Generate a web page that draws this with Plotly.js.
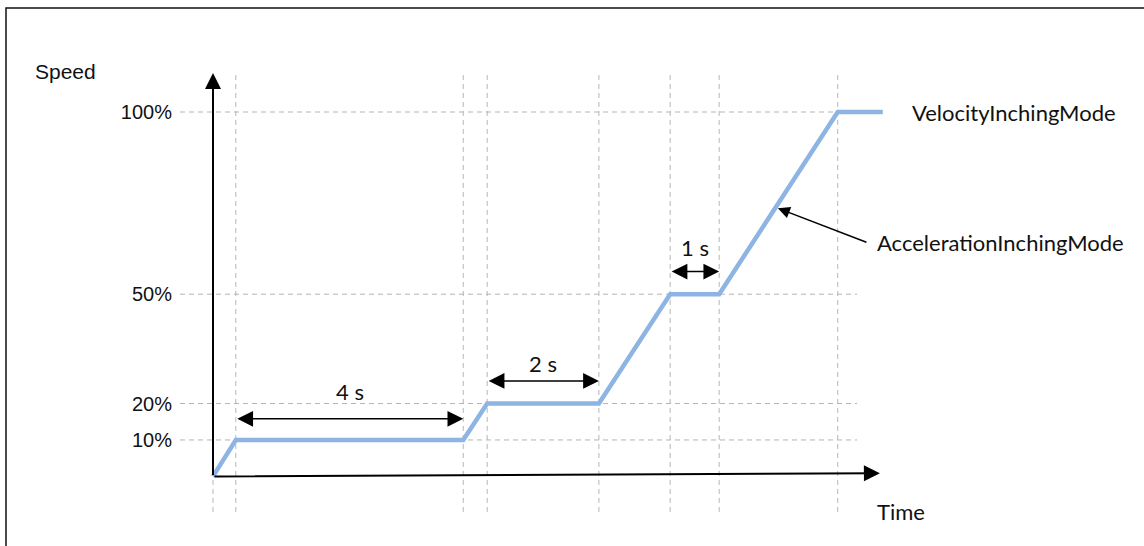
<!DOCTYPE html>
<html>
<head>
<meta charset="utf-8">
<script src="https://cdn.plot.ly/plotly-3.0.1.min.js"></script>
<style>html,body{margin:0;padding:0;background:#fff;}#chart{width:1144px;height:546px;}</style>
</head>
<body>
<div id="chart"></div>
<script>
// ---- data ----
const times = [0, 0.40, 4.39, 4.81, 6.77, 8.02, 8.88, 10.96, 11.75];   // time (arbitrary s scale)
const speed = [0, 10, 10, 20, 20, 50, 50, 100, 100];                     // speed in %
const gridTimes = [0, 0.40, 4.39, 4.81, 6.77, 8.02, 8.88, 10.96];
const speedTicks = [10, 20, 50, 100];
const speedTickLabels = ['10%', '20%', '50%', '100%'];
const spanLabels = ['4 s', '2 s', '1 s'];
const spanStart = [0.40, 4.81, 8.02];
const spanEnd = [4.39, 6.77, 8.88];
const spanArrowY = [15.8, 26.2, 56.2];
const spanTextY = [23.2, 30.9, 62.9];

// ---- styles ----
const TEXTFONT = {family: 'Lato, "Open Sans", sans-serif', size: 22, color: '#111'};
const AXFONT = {family: '"Liberation Sans", Arial, sans-serif', size: 20, color: '#111'};
const GRID = {color: '#b5b5b5', width: 1, dash: '5px,4px'};

const xRange = [-0.579, 16.333];
const yRange = [-19.10, 130.74];
const gridTop = 110.15, gridBottom = -9.75, gridRight = 11.30;

const shapes = [];
gridTimes.forEach(t => shapes.push({type: 'line', xref: 'x', yref: 'y', x0: t, x1: t, y0: gridBottom, y1: gridTop, line: GRID, layer: 'below'}));
speedTicks.forEach(s => shapes.push({type: 'line', xref: 'paper', yref: 'y', x0: 0, x1: (gridRight - xRange[0]) / (xRange[1] - xRange[0]), y0: s, y1: s, line: GRID, layer: 'below'}));
// outer frame
shapes.push({type: 'rect', xref: 'paper', yref: 'paper', x0: -0.1805, x1: 1.05, y0: -0.05, y1: 0.9853, line: {color: '#111', width: 1.5}, fillcolor: 'rgba(0,0,0,0)'});

const annotations = [];
// y axis arrow
annotations.push({x: 0, y: 110.7, ax: 0, ay: 0, xref: 'x', yref: 'y', axref: 'x', ayref: 'y', text: '', showarrow: true, arrowhead: 2, arrowsize: 1.6, arrowwidth: 2, arrowcolor: '#000', standoff: 0, startstandoff: 0});
// x axis arrow (slightly tilted as in reference)
annotations.push({x: 11.70, y: 0.85, ax: 0, ay: 0, xref: 'x', yref: 'y', axref: 'x', ayref: 'y', text: '', showarrow: true, arrowhead: 2, arrowsize: 1.6, arrowwidth: 2, arrowcolor: '#000', standoff: 0, startstandoff: 0});
// duration spans
spanLabels.forEach((lab, i) => {
  annotations.push({x: spanEnd[i], y: spanArrowY[i], ax: spanStart[i], ay: spanArrowY[i], xref: 'x', yref: 'y', axref: 'x', ayref: 'y', text: '', showarrow: true, arrowhead: 2, startarrowhead: 2, arrowside: 'end+start', arrowsize: 2.1, startarrowsize: 2.1, arrowwidth: 1.5, arrowcolor: '#000', standoff: 0, startstandoff: 0});
  annotations.push({x: (spanStart[i] + spanEnd[i]) / 2, y: spanTextY[i], xref: 'x', yref: 'y', text: lab, showarrow: false, font: TEXTFONT, xanchor: 'center', yanchor: 'middle'});
});
// labels
annotations.push({x: 12.23, y: 100, xref: 'x', yref: 'y', text: 'VelocityInchingMode', showarrow: false, font: TEXTFONT, xanchor: 'left', yanchor: 'middle'});
annotations.push({x: 11.62, y: 64.1, xref: 'x', yref: 'y', text: 'AccelerationInchingMode', showarrow: false, font: TEXTFONT, xanchor: 'left', yanchor: 'middle'});
annotations.push({x: 9.91, y: 73.6, ax: 11.49, ay: 64.1, xref: 'x', yref: 'y', axref: 'x', ayref: 'y', text: '', showarrow: true, arrowhead: 2, arrowsize: 1.6, arrowwidth: 1.5, arrowcolor: '#000', standoff: 0, startstandoff: 0});
annotations.push({x: 11.62, y: -9.5, xref: 'x', yref: 'y', text: 'Time', showarrow: false, font: TEXTFONT, xanchor: 'left', yanchor: 'middle'});
annotations.push({x: -0.1525, y: 111.0, xref: 'paper', yref: 'y', text: 'Speed', showarrow: false, font: {family: AXFONT.family, size: 21, color: AXFONT.color}, xanchor: 'left', yanchor: 'middle'});

const trace = {
  x: times, y: speed, type: 'scatter', mode: 'lines',
  line: {color: '#8db4e2', width: 4.5}, hoverinfo: 'skip'
};

const layout = {
  width: 1144, height: 546,
  margin: {l: 180, r: 0, t: 0, b: 0},
  paper_bgcolor: '#fff', plot_bgcolor: '#fff',
  showlegend: false,
  xaxis: {range: xRange, showgrid: false, zeroline: false, showline: false, showticklabels: false, ticks: '', fixedrange: true},
  yaxis: {range: yRange, showgrid: false, zeroline: false, showline: false, tickmode: 'array', tickvals: speedTicks, ticktext: speedTickLabels, ticks: 'outside', ticklen: 3, tickcolor: 'rgba(0,0,0,0)', tickfont: AXFONT, fixedrange: true},
  shapes: shapes,
  annotations: annotations
};

Plotly.newPlot('chart', [trace], layout, {displayModeBar: false, staticPlot: true});
</script>
</body>
</html>
